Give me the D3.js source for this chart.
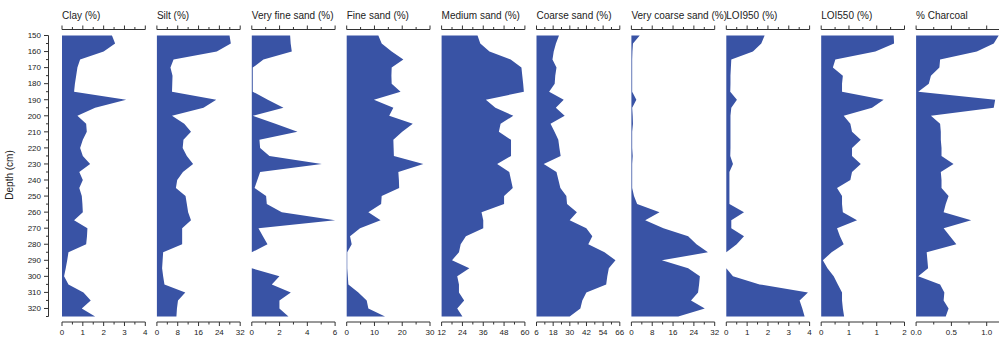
<!DOCTYPE html>
<html>
<head>
<meta charset="utf-8">
<script src="https://cdn.jsdelivr.net/npm/d3@7"></script>
<style>
  html, body { margin: 0; padding: 0; background: #fff; }
  svg { display: block; }
  text { font-family: "Liberation Sans", Arial, sans-serif; fill: #222; }
</style>
</head>
<body>
<svg id="chart" width="999" height="337"></svg>
<script>
// ---------- DATA ----------
const depth = [150,155,160,165,170,175,180,185,190,195,200,205,210,215,220,225,230,235,240,245,250,255,260,265,270,275,280,285,290,295,300,305,310,315,320,325];

const clay = [2.4,2.55,2.0,0.87,0.74,0.68,0.62,0.58,3.08,1.59,0.74,1.16,1.19,1.0,0.87,1.0,1.35,0.83,1.0,0.83,0.95,0.98,1.0,0.58,1.22,1.2,1.16,0.31,0.25,0.18,0.1,0.31,1.03,1.38,0.95,1.59];
const silt = [27.9,28.4,23,6.4,5.2,6.0,5.9,5.8,22.8,17.9,5.8,10.5,13.1,10.2,9.9,11.5,13.9,10,7.8,7.3,11,11.5,12,13.1,9.7,9.7,9.7,2.4,2.2,2.0,2.4,2.9,10.9,8.1,7.7,7.5];
const veryFineSand = [2.76,2.8,2.88,0.84,0.07,0.07,0.07,0.07,1.15,2.28,0.08,1.7,3.29,0.55,0.6,1.27,5.04,0.6,0.4,0.2,1.03,1.08,2.16,6.0,0.48,0.8,1.13,0,0,0,1.99,1.44,2.81,1.99,1.99,2.64];
const fineSand = [11.4,12.6,16.2,20.4,16.2,16.1,16.2,19.4,9.8,16.8,15.3,23.8,20,16.8,16.9,17.0,27.6,18.6,18.8,18.9,12.6,12.4,7.8,12.2,4.8,1.2,1.8,0.2,0.2,0.2,0.4,0.6,4.2,7.2,7.8,13.8];
const mediumSand = [32.7,34.3,39.6,51.8,58,58.5,59,59.4,37.5,43,53.3,46,45,52,52,52,44,51,52,53,48,48,35,36,36,26,23,22,18,28,21,22,22,25,21,24];
const coarseSand = [22.2,20,18.4,17.5,20.4,19.5,19.1,15.1,25.6,19.9,26.3,16.1,19,21.7,22.5,23.4,11.2,20.4,21.8,23.2,27.5,28,35.1,29.9,41.9,46.2,43.3,55,62.9,58.1,57,56.2,41.9,39,37.6,29.9];
const veryCoarseSand = [3.2,0.6,0.4,0.3,0.3,0.3,0.3,0.3,1.9,0.3,0.5,0.6,0.3,0.3,0.3,0.5,0.3,0.3,0.3,0.3,1.0,2.2,10.8,5.3,12.3,21.8,25,29.4,11.7,21.8,26.3,26,25.6,22.9,28.2,18];
const loi950 = [1.84,1.68,1.28,0.24,0.22,0.2,0.2,0.19,0.51,0.24,0.2,0.2,0.2,0.2,0.2,0.19,0.32,0.15,0.15,0.15,0.15,0.15,0.85,0.24,0.24,0.85,0.5,0,0,0,0.32,1.6,3.92,3.52,3.65,3.76];
const loi550 = [1.74,1.75,1.3,0.34,0.28,0.52,0.5,0.5,1.5,1.22,0.54,0.7,0.74,0.95,0.74,0.74,0.95,0.74,0.7,0.38,0.5,0.5,0.52,0.86,0.38,0.45,0.54,0.25,0.04,0.15,0.3,0.4,0.5,0.5,0.52,0.55];
const charcoal = [1.17,1.1,0.86,0.34,0.33,0.21,0.18,0.03,1.12,1.1,0.21,0.34,0.35,0.35,0.36,0.36,0.53,0.35,0.36,0.36,0.46,0.42,0.39,0.78,0.39,0.48,0.57,0.15,0.16,0.17,0.03,0.34,0.4,0.39,0.46,0.42];

const titles = ["Clay (%)","Silt (%)","Very fine sand (%)","Fine sand (%)","Medium sand (%)","Coarse sand (%)","Very coarse sand (%)","LOI950 (%)","LOI550 (%)","% Charcoal"];
const seriesList = [clay, silt, veryFineSand, fineSand, mediumSand, coarseSand, veryCoarseSand, loi950, loi550, charcoal];
const domains = [[0,4],[0,32],[0,6],[0,30],[12,60],[6,66],[0,32],[0,4],[0,2],[0,1.18]];
const majorTicks = [[0,1,2,3,4],[0,8,16,24,32],[0,2,4,6],[0,10,20,30],[12,24,36,48,60],[6,18,30,42,54,66],[0,8,16,24,32],[0,1,2,3,4],[0,2/3,4/3,2],[0,0.5,1.0]];
const majorLabels = [["0","1","2","3","4"],["0","8","16","24","32"],["0","2","4","6"],["0","10","20","30"],["12","24","36","48","60"],["6","18","30","42","54","66"],["0","8","16","24","32"],["0","1","2","3","4"],["0","1","1","2"],["0.0","0.5","1.0"]];
const minorTicks = [[0.5,1.5,2.5,3.5],[4,12,20,28],[1,3,5],[5,15,25],[18,30,42,54],[12,24,36,48,60],[4,12,20,28],[0.5,1.5,2.5,3.5],[1/3,1,5/3],[0.25,0.75]];
const depthTicks = [150,160,170,180,190,200,210,220,230,240,250,260,270,280,290,300,310,320];
const depthMinor = [155,165,175,185,195,205,215,225,235,245,255,265,275,285,295,305,315,325];

// ---------- LAYOUT ----------
const fillColor = "#3953a5";
const axisColor = "#333";
const panelLeft0 = 62, panelStep = 94.9, panelWidth = 83.3;
const svg = d3.select("#chart");
const y = d3.scaleLinear().domain([150, 325]).range([35.5, 316.5]);
const topAxisY = 29.5, bottomAxisY = 322;

// Depth axis
const dAx = svg.append("g");
dAx.append("line").attr("x1",48.5).attr("x2",48.5).attr("y1",y(150)).attr("y2",y(325))
  .attr("stroke",axisColor).attr("stroke-width",1);
depthTicks.forEach(t => {
  dAx.append("line").attr("x1",44).attr("x2",48.5).attr("y1",y(t)).attr("y2",y(t)).attr("stroke",axisColor);
  dAx.append("text").attr("x",41).attr("y",y(t)).attr("dy","0.35em").attr("text-anchor","end")
    .attr("font-size",8).text(t);
});
depthMinor.forEach(t => {
  dAx.append("line").attr("x1",46).attr("x2",48.5).attr("y1",y(t)).attr("y2",y(t)).attr("stroke",axisColor);
});
svg.append("text").attr("transform","translate(13,175) rotate(-90)").attr("text-anchor","middle")
  .attr("font-size",10).text("Depth (cm)");

// Panels
seriesList.forEach((vals, i) => {
  const left = panelLeft0 + i*panelStep;
  const x = d3.scaleLinear().domain(domains[i]).range([left, left + panelWidth]);
  const g = svg.append("g");
  const data = depth.map((d, k) => ({d, v: vals[k]}));
  const area = d3.area().y(p => y(p.d)).x0(x(domains[i][0])).x1(p => x(p.v));
  g.append("path").datum(data).attr("d", area).attr("fill", fillColor);

  // title
  g.append("text").attr("x", left).attr("y", 19).attr("font-size", 10).text(titles[i]);

  // top axis
  const right = Math.min(left + panelWidth, 999);
  g.append("line").attr("x1",left).attr("x2",left+panelWidth).attr("y1",topAxisY).attr("y2",topAxisY).attr("stroke",axisColor);
  majorTicks[i].forEach(t => g.append("line").attr("x1",x(t)).attr("x2",x(t)).attr("y1",topAxisY).attr("y2",topAxisY-4).attr("stroke",axisColor));
  minorTicks[i].forEach(t => g.append("line").attr("x1",x(t)).attr("x2",x(t)).attr("y1",topAxisY).attr("y2",topAxisY-2.5).attr("stroke",axisColor));

  // bottom axis
  g.append("line").attr("x1",left).attr("x2",left+panelWidth).attr("y1",bottomAxisY).attr("y2",bottomAxisY).attr("stroke",axisColor);
  majorTicks[i].forEach((t, k) => {
    g.append("line").attr("x1",x(t)).attr("x2",x(t)).attr("y1",bottomAxisY).attr("y2",bottomAxisY+4).attr("stroke",axisColor);
    g.append("text").attr("x",x(t)).attr("y",334.5).attr("text-anchor","middle").attr("font-size",8).text(majorLabels[i][k]);
  });
  minorTicks[i].forEach(t => g.append("line").attr("x1",x(t)).attr("x2",x(t)).attr("y1",bottomAxisY).attr("y2",bottomAxisY+2.5).attr("stroke",axisColor));
});
</script>
</body>
</html>
